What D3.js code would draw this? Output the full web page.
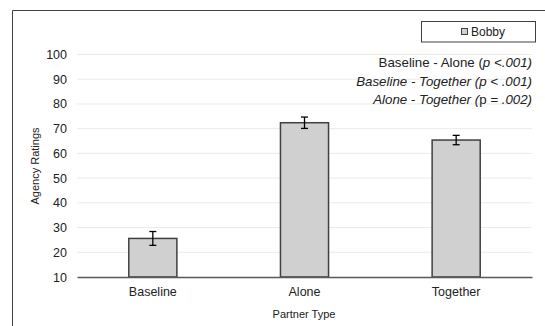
<!DOCTYPE html>
<html>
<head>
<meta charset="utf-8" />
<title>Agency Ratings</title>
<style>
  body { margin: 0; background: #fff; }
  svg text { font-family: "Liberation Sans", Arial, sans-serif; fill: #222; }
</style>
</head>
<body>
<div id="chart"></div>
<script src="https://cdn.jsdelivr.net/npm/d3@7"></script>
<script>
var categories = ["Baseline", "Alone", "Together"];
var means = [25.6, 72.4, 65.4];
var errors = [2.8, 2.3, 1.9];
var yTicks = [10, 20, 30, 40, 50, 60, 70, 80, 90, 100];
var seriesName = "Bobby";

var width = 545, height = 326;
var svg = d3.select("#chart").append("svg").attr("width", width).attr("height", height);

// outer frame (cut off at right and bottom)
svg.append("path").attr("d", "M12.5," + height + "V10.5H" + width)
  .attr("fill", "none").attr("stroke", "#404040").attr("stroke-width", 1);

var x = d3.scaleBand().domain(categories).range([77, 532]).paddingInner(0.683).paddingOuter(0.3415);
var y = d3.scaleLinear().domain([10, 100]).range([277, 54.5]);

// gridlines
svg.append("g").selectAll("line").data(yTicks.slice(1)).enter().append("line")
  .attr("x1", 77).attr("x2", 532)
  .attr("y1", function(d) { return y(d); }).attr("y2", function(d) { return y(d); })
  .attr("stroke", "#ebebeb").attr("stroke-width", 1);

// y axis labels
var yAxis = svg.append("g").attr("transform", "translate(77,0)")
  .call(d3.axisLeft(y).tickValues(yTicks).tickSize(0).tickPadding(10));
yAxis.select(".domain").remove();
yAxis.selectAll("text").style("font-size", "12.5px").attr("fill", "#222");

// bars
svg.append("g").selectAll("rect").data(categories).enter().append("rect")
  .attr("x", function(d) { return x(d); })
  .attr("width", x.bandwidth())
  .attr("y", function(d, i) { return y(means[i]); })
  .attr("height", function(d, i) { return y(10) - y(means[i]); })
  .attr("fill", "#d0d0d0").attr("stroke", "#404040").attr("stroke-width", 1.5);

// x axis
var xAxis = svg.append("g").attr("transform", "translate(0," + y(10) + ")")
  .call(d3.axisBottom(x).tickSize(0).tickPadding(10));
xAxis.select(".domain").attr("stroke", "#595959").attr("stroke-width", 1.5);
xAxis.selectAll("text").style("font-size", "12.5px").attr("fill", "#222");

// error bars
var eb = svg.append("g").selectAll("g").data(categories).enter().append("g")
  .attr("stroke", "#000").attr("stroke-width", 1.3);
eb.append("line")
  .attr("x1", function(d) { return x(d) + x.bandwidth() / 2; })
  .attr("x2", function(d) { return x(d) + x.bandwidth() / 2; })
  .attr("y1", function(d, i) { return y(means[i] + errors[i]); })
  .attr("y2", function(d, i) { return y(means[i] - errors[i]); });
[1, -1].forEach(function(s) {
  eb.append("line")
    .attr("x1", function(d) { return x(d) + x.bandwidth() / 2 - 3.5; })
    .attr("x2", function(d) { return x(d) + x.bandwidth() / 2 + 3.5; })
    .attr("y1", function(d, i) { return y(means[i] + s * errors[i]); })
    .attr("y2", function(d, i) { return y(means[i] + s * errors[i]); });
});

// axis titles
svg.append("text").attr("x", 304).attr("y", 318).attr("text-anchor", "middle")
  .style("font-size", "11px").text("Partner Type");
svg.append("text").attr("transform", "translate(39,166) rotate(-90)").attr("text-anchor", "middle")
  .style("font-size", "11px").text("Agency Ratings");

// legend
svg.append("rect").attr("x", 421.5).attr("y", 21.5).attr("width", 114).attr("height", 20.5)
  .attr("fill", "#fff").attr("stroke", "#404040").attr("stroke-width", 1);
svg.append("rect").attr("x", 461.5).attr("y", 28.5).attr("width", 6).attr("height", 6)
  .attr("fill", "#d0d0d0").attr("stroke", "#404040").attr("stroke-width", 1);
svg.append("text").attr("x", 471).attr("y", 36).style("font-size", "12px").text(seriesName);

// significance notes
var notes = [
  [["Baseline - Alone (", false], ["p <.001)", true]],
  [["Baseline - Together (p < .001)", true]],
  [["Alone - Together (", true], ["p", false], [" = .002)", true]]
];
var noteY = [67, 85.5, 104];
notes.forEach(function(parts, i) {
  var t = svg.append("text").attr("x", 532).attr("y", noteY[i]).attr("text-anchor", "end")
    .style("font-size", "13.3px");
  parts.forEach(function(p) {
    t.append("tspan").style("font-style", p[1] ? "italic" : "normal").text(p[0]);
  });
});
</script>
</body>
</html>
